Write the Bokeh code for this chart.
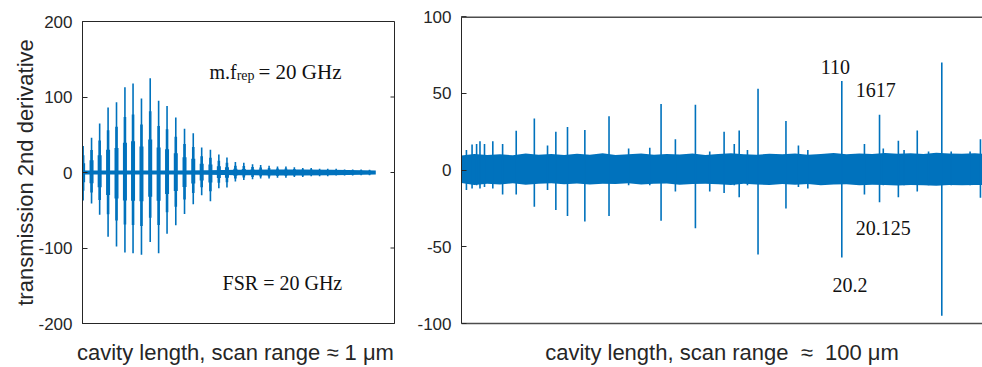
from bokeh.plotting import figure
from bokeh.models import Range1d, FixedTicker
from bokeh.layouts import row
from bokeh.embed import file_html
from bokeh.resources import INLINE
from bokeh.core.properties import value
import numpy as np

# ---------------- data: left panel (scan range ~1 um) ----------------
left_burst_x = [0.002, 0.029, 0.055, 0.082, 0.109, 0.136, 0.162, 0.189, 0.217, 0.244,
                0.271, 0.299, 0.327, 0.355, 0.382, 0.410, 0.437, 0.463, 0.490, 0.517,
                0.545, 0.571, 0.598, 0.625, 0.652, 0.679, 0.706, 0.733, 0.760, 0.786,
                0.813, 0.840, 0.866, 0.893, 0.920]
left_burst_hi = [35, 46, 65, 86, 93, 113, 118, 98, 125, 95,
                 88, 73, 58, 52, 33, 30, 24, 20, 14, 13,
                 11, 10, 9, 8, 8, 7, 6, 6, 5, 5,
                 5, 4, 4, 4, 3.5]
left_burst_lo = [-37, -41, -56, -85, -98, -106, -107, -109, -92, -107,
                 -81, -70, -55, -42, -30, -38, -21, -20, -12, -10,
                 -9, -8, -8, -7, -7, -6, -6, -5, -5, -5,
                 -4, -4, -4, -3.5, -3.5]
left_band_x = [0.0, 0.1, 0.2, 0.3, 0.4, 0.5, 0.6, 0.7, 0.8, 0.9, 0.94]
left_band_hi = [2.5, 2.5, 2.5, 2.5, 3, 3.5, 4, 4, 3.5, 3, 2.5]
left_band_lo = [-2.5, -2.5, -2.5, -2.5, -3, -3.5, -4, -4, -3.5, -3, -2.5]
left_yticks = [-200, -100, 0, 100, 200]

# ---------------- data: right panel (scan range ~100 um) ----------------
right_spike_x = [0.96, 2.06, 2.94, 3.60, 4.48, 6.10, 8.01, 10.66, 14.19, 16.76,
                 18.38, 20.65, 24.03, 28.74, 32.56, 36.68, 38.88, 41.67, 45.57, 48.36,
                 51.16, 53.14, 54.10, 55.71, 57.77, 63.21, 65.64, 67.47, 74.09, 78.50,
                 81.44, 82.17, 85.11, 86.22, 88.79, 90.99, 93.57, 95.40, 99.08, 101.1]
right_spike_hi = [13, 16.6, 17, 18.8, 17, 18.8, 17, 25.5, 33.5, 16,
                  25, 28, 26, 35, 14, 14.5, 43, 20, 42.5, 12,
                  25, 17, 25.7, 13, 53, 32, 16, 13, 58, 17,
                  36, 14, 19, 13, 25.7, 12, 70, 12, 12, 20]
right_spike_lo = [-13, -12, -10, -12, -11, -12, -16, -16, -24, -13,
                  -26, -30, -33.5, -30, -10, -10, -33, -14, -38, -14,
                  -15, -10, -17.7, -10, -55, -25, -11, -12, -57, -16,
                  -21, -10, -17.7, -10, -14, -10, -95, -10, -10, -18]
right_band_x = [0.0, 2.5, 5.0, 7.5, 10.0, 12.5, 15.0, 17.5, 20.0, 22.5,
                25.0, 27.5, 30.0, 32.5, 35.0, 37.5, 40.0, 42.5, 45.0, 47.5,
                50.0, 52.5, 55.0, 57.5, 60.0, 62.5, 65.0, 67.5, 70.0, 72.5,
                75.0, 77.5, 80.0, 82.5, 85.0, 87.5, 90.0, 92.5, 95.0, 97.5, 100.0, 102.0]
right_band_hi = [9.5, 10.5, 9.8, 10.2, 9.6, 10.8, 9.9, 10.4, 9.7, 10.6,
                 10.0, 10.9, 9.8, 10.3, 10.7, 9.9, 10.5, 10.1, 10.8, 9.7,
                 10.4, 10.9, 10.2, 9.9, 10.6, 10.3, 10.8, 10.0, 10.5, 11.0,
                 10.2, 10.7, 10.4, 11.1, 10.6, 10.9, 10.5, 11.2, 10.8, 10.6, 10.9, 10.5]
right_band_lo = [-8.5, -9.8, -8.9, -9.4, -8.7, -9.6, -9.0, -8.6, -9.3, -8.8,
                 -9.5, -8.9, -9.2, -8.7, -9.4, -9.0, -8.8, -9.6, -9.1, -8.9,
                 -9.3, -9.7, -9.0, -9.4, -9.8, -9.2, -9.6, -9.1, -9.9, -9.5,
                 -9.3, -10.0, -9.6, -9.8, -10.1, -9.7, -9.9, -10.2, -9.8, -10.0, -9.7, -9.9]
right_yticks = [-100, -50, 0, 50, 100]

right_ann_text = ["110", "1617", "20.125", "20.2"]
right_ann_x = [70.0, 76.8, 76.8, 72.3]
right_ann_y = [66.8, 51.8, -38.1, -75.2]

BLUE = "#0072BD"
AX = "#262626"
SANS = "Liberation Sans"
SERIF = "Liberation Serif"


def style_yaxis(ax, ticks):
    ax.ticker = FixedTicker(ticks=ticks)
    ax.major_label_overrides = {t: str(t) for t in ticks}
    ax.major_tick_in = 5
    ax.major_tick_out = 0
    ax.minor_tick_line_color = None
    ax.major_tick_line_color = AX
    ax.axis_line_color = AX
    ax.major_label_text_font = SANS
    ax.major_label_text_font_size = "17px"
    ax.major_label_text_color = AX
    ax.major_label_standoff = 10


def blank_axis(ax):
    ax.ticker = FixedTicker(ticks=[])
    ax.major_tick_in = 0
    ax.major_tick_out = 0
    ax.minor_tick_line_color = None
    ax.major_label_standoff = 0
    ax.axis_line_color = AX


def style_xlabel(ax, text):
    ax.axis_label = text
    ax.axis_label_text_font = SANS
    ax.axis_label_text_font_size = "22px"
    ax.axis_label_text_font_style = "normal"
    ax.axis_label_text_color = AX
    ax.axis_label_standoff = 16


# ---------------- left figure ----------------
p1 = figure(width=400, height=367, x_range=Range1d(0, 1), y_range=Range1d(-200, 200),
            output_backend="svg", toolbar_location=None,
            min_border_left=82, min_border_right=6, min_border_top=21, min_border_bottom=44)
p1.outline_line_color = AX
p1.grid.visible = False
p1.background_fill_color = "white"
p1.border_fill_color = "white"

p1.varea(x=left_band_x, y1=left_band_lo, y2=left_band_hi, fill_color=BLUE)
bx = np.array(left_burst_x)
bhi = np.array(left_burst_hi, dtype=float)
blo = np.array(left_burst_lo, dtype=float)
for f, w in [(0.35, 4.0), (0.65, 2.6), (1.0, 1.6)]:
    p1.segment(x0=bx, y0=blo * f, x1=bx, y1=bhi * f, line_color=BLUE, line_width=w)

# inward tick marks on the right edge of the box (clipped to the frame)
p1.scatter(x=[p1.x_range.end] * len(left_yticks), y=left_yticks, marker="dash", size=8,
           line_color=AX, line_width=1)

style_yaxis(p1.yaxis[0], left_yticks)
p1.yaxis[0].axis_label = "transmission 2nd derivative"
p1.yaxis[0].axis_label_text_font = SANS
p1.yaxis[0].axis_label_text_font_size = "22px"
p1.yaxis[0].axis_label_text_font_style = "normal"
p1.yaxis[0].axis_label_text_color = AX
p1.yaxis[0].axis_label_standoff = -3

blank_axis(p1.xaxis[0])
style_xlabel(p1.xaxis[0], "cavity length, scan range  \u2248 1 \u03bcm")

p1.text(x=[0.494], y=[132.5], text=["m.f"], text_font=value(SERIF), text_font_size="20px",
        text_align="right", text_baseline="alphabetic", text_color="#111111")
p1.text(x=[0.494], y=[127.9], text=["rep"], text_font=value(SERIF), text_font_size="14px",
        text_align="left", text_baseline="alphabetic", text_color="#111111")
p1.text(x=[0.564], y=[132.5], text=["= 20 GHz"], text_font=value(SERIF), text_font_size="21px",
        text_align="left", text_baseline="alphabetic", text_color="#111111")
p1.text(x=[0.449], y=[-147.0], text=["FSR = 20 GHz"], text_font=value(SERIF), text_font_size="20px",
        text_align="left", text_baseline="alphabetic", text_color="#111111")

# ---------------- right figure ----------------
p2 = figure(width=582, height=367, x_range=Range1d(0, 101.5), y_range=Range1d(-100, 100),
            output_backend="svg", toolbar_location=None,
            min_border_left=61, min_border_right=0, min_border_top=16, min_border_bottom=44)
p2.outline_line_color = None
p2.grid.visible = False
p2.background_fill_color = "white"
p2.border_fill_color = "white"

for fig in (p1, p2):
    if "frame_align" in fig.properties():
        fig.frame_align = False

p2.varea(x=right_band_x, y1=right_band_lo, y2=right_band_hi, fill_color=BLUE)
p2.segment(x0=right_spike_x, y0=right_spike_lo, x1=right_spike_x, y1=right_spike_hi,
           line_color=BLUE, line_width=1.6)

# top edge of the (cut-off) box, drawn just inside the frame
top_y = p2.y_range.end - 0.5
p2.line(x=[p2.x_range.start, p2.x_range.end], y=[top_y, top_y],
        line_color="#4d4d4d", line_width=1.5, level="overlay")

style_yaxis(p2.yaxis[0], right_yticks)
blank_axis(p2.xaxis[0])
p2.xaxis[0].axis_line_width = 1.5
p2.xaxis[0].axis_line_color = "#4d4d4d"
style_xlabel(p2.xaxis[0], "cavity length, scan range \u00a0\u2248\u00a0 100 \u03bcm")

p2.text(x=right_ann_x, y=right_ann_y, text=right_ann_text, text_font=value(SERIF),
        text_font_size="20px", text_align="left", text_baseline="middle", text_color="#111111")

layout = row(p1, p2)
open("out.html", "w").write(file_html(layout, INLINE))
